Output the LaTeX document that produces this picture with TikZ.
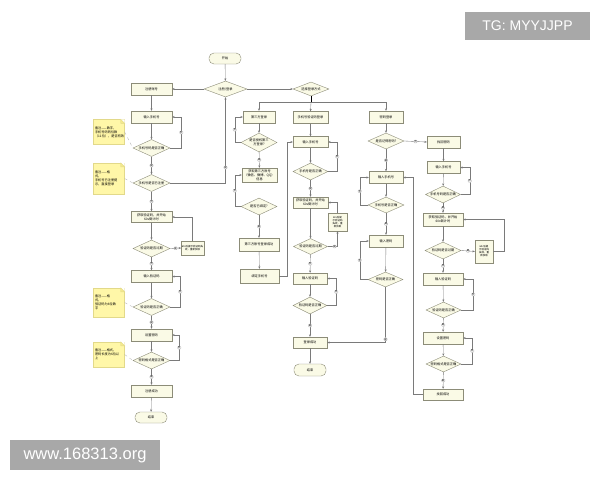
\documentclass[tikz,border=0pt]{standalone}
\usepackage{fontspec}
\newfontfamily\cjk{Noto Sans CJK SC}
\newfontfamily\wmfont{Liberation Sans}
\usetikzlibrary{shapes.geometric,arrows.meta}
\definecolor{boxfill}{HTML}{FAFAE6}
\definecolor{boxline}{HTML}{8C8C78}
\definecolor{wire}{HTML}{7A7A7A}
\definecolor{notefill}{HTML}{FFF7A8}
\definecolor{noteline}{HTML}{E2D98A}
\definecolor{notefold}{HTML}{F3E98E}
\definecolor{wmgray}{HTML}{A8A8A8}
\tikzset{
  txt/.style={font=\cjk\fontsize{3.2}{3.9}\selectfont},
  proc/.style={txt, draw=boxline, fill=boxfill, line width=0.4pt, minimum width=41pt, minimum height=12pt, inner sep=0.5pt, align=center},
  term/.style={proc, rounded corners=5pt, minimum width=32pt, minimum height=11pt},
  decide/.style={txt, diamond, draw=boxline, fill=boxfill, line width=0.4pt, aspect=2.2, inner sep=0pt, minimum width=37pt, minimum height=17pt, align=center},
  small/.style={font=\cjk\fontsize{2.5}{3}\selectfont},
  note/.style={txt, fill=notefill, draw=noteline, line width=0.3pt, align=left, inner sep=1pt, text width=28pt, minimum width=31pt, minimum height=25pt},
  arr/.style={draw=wire, line width=0.35pt, -{Stealth[length=2.4pt,width=2pt]}},
  lbl/.style={font=\cjk\fontsize{2.5}{3}\selectfont, fill=white, draw=wire!50, rounded corners=1pt, inner sep=0.4pt},
  wm/.style={fill=wmgray, text=white, font=\wmfont\fontsize{14}{14}\selectfont, inner sep=0pt}
}
\begin{document}
\begin{tikzpicture}[x=1pt,y=-1pt]
  % page, in pixels of the reference
  \fill[white] (0,0) rectangle (600,480);
  \useasboundingbox (0,0) rectangle (600,480);

  %% register column
  \node[term] (start) at (225,58.5) {开始};
  \node[decide, minimum width=43pt, minimum height=16pt] (reg) at (225.5,89) {注册/登录};
  \node[proc] (r1) at (151.5,89) {注册账号};
  \node[proc] (r2) at (151.5,117) {输入手机号};
  \node[decide] (r3) at (151.5,148) {手机号码是否正确};
  \node[decide] (r4) at (151.5,183) {手机号是否已注册};
  \node[proc, minimum height=11pt] (r5) at (151.5,217) {获取验证码，并开始\\60s倒计时};
  \node[decide] (r6) at (151.5,248.5) {验证码是否过期};
  \node[proc, small, minimum width=21pt, minimum height=14pt] (r6b) at (192.5,248) {60s后提示验证码失\\效，重新获取};
  \node[proc] (r7) at (151.5,276.5) {输入验证码};
  \node[decide] (r8) at (151.5,307) {验证码是否正确};
  \node[proc] (r9) at (151.5,335) {设置密码};
  \node[decide] (r10) at (151.5,360.5) {密码格式是否正确};
  \node[proc] (r11) at (151.5,391) {注册成功};
  \node[term] (r12) at (151,417.5) {结束};

  %% notes
  \node[note] (n1) at (109,132) {备注——数字，\\手机号码的位数\\（11位），是否有效};
  \node[note, minimum height=31pt] (n2) at (109,178.5) {备注——格\\式，\\手机号已注册提\\示，直接登录};
  \node[note, minimum height=29pt] (n3) at (109,302.5) {备注——格\\式，\\验证码为6位数\\字};
  \node[note] (n4) at (109,354.5) {备注——格式，\\密码长度为6位以\\上};
  \foreach \n in {n1,n2,n3,n4}
  {
    \fill[white] (\n.north east) ++(-4,0) -- (\n.north east) -- ++(0,4) -- cycle;
    \draw[noteline, fill=notefold, line width=0.3pt] (\n.north east) ++(-4,0) -- ++(0,4) -- ++(4,0) -- cycle;
  }

  %% login: choice of way
  \node[decide, minimum width=36pt, minimum height=14pt] (mode) at (311,89) {选择登录方式};
  \coordinate (split) at (311,102.5);

  % third party
  \node[proc, minimum width=32pt] (a1) at (259,117) {第三方登录};
  \node[decide, minimum width=36pt, minimum height=19pt] (a2) at (259,142.5) {是否授权第三\\方登录?};
  \node[proc, minimum width=35pt, minimum height=14pt] (a3) at (259.5,175) {获取第三方账号\\（微信、微博、QQ）\\信息};
  \node[decide, minimum width=36pt] (a4) at (259,206.5) {是否已绑定?};
  \node[proc, minimum width=40pt, minimum height=13pt] (a5) at (259,244.5) {第三方账号登录成功};
  \node[proc, minimum width=39pt, minimum height=14pt] (a6) at (259.5,276) {绑定手机号};

  % phone and code
  \node[proc, minimum width=35pt] (b1) at (310.5,117.5) {手机号验证码登录};
  \node[proc, minimum width=35pt, minimum height=11pt] (b2) at (310.5,142) {输入手机号};
  \node[decide, minimum width=35pt] (b3) at (310.5,171.5) {手机号是否正确};
  \node[proc, minimum width=35pt, minimum height=11pt] (b4) at (310.5,202.5) {获取验证码，并开始\\60s倒计时};
  \node[proc, small, minimum width=19pt, minimum height=18pt] (b5) at (337.5,222) {60s后提\\示验证码\\失效，重\\新获取};
  \node[decide, minimum width=34pt, minimum height=16pt] (b6) at (310.5,246.5) {验证码是否过期};
  \node[proc, minimum width=34pt, minimum height=11pt] (b7) at (310,278.5) {输入验证码};
  \node[decide, minimum width=34pt] (b8) at (310,305.5) {验证码是否正确};
  \node[proc, minimum width=34pt, minimum height=11pt] (b9) at (310,342.5) {登录成功};
  \node[term, minimum height=12pt] (b10) at (310,370) {结束};

  % password
  \node[proc, minimum width=34pt] (c1) at (386,117) {密码登录};
  \node[decide, minimum width=36pt, minimum height=16pt] (c2) at (386,141) {是否记得密码?};
  \node[proc, minimum width=34pt] (c3) at (386,177.5) {输入手机号};
  \node[decide, minimum width=36pt, minimum height=16pt] (c4) at (386,205) {手机号是否正确};
  \node[proc, minimum width=34pt] (c5) at (386,241) {输入密码};
  \node[decide, minimum width=35pt, minimum height=15pt] (c6) at (385.5,279.5) {密码是否正确};

  % find password
  \node[proc, minimum width=33pt] (d1) at (443.5,142) {找回密码};
  \node[proc, minimum width=33pt] (d2) at (443.5,167.5) {输入手机号};
  \node[decide, minimum width=35pt] (d3) at (443,194.5) {手机号码是否正确};
  \node[proc, minimum width=40pt, minimum height=13pt] (d4) at (443,219.5) {获取验证码，并开始\\60s倒计时};
  \node[decide, minimum width=36pt] (d5) at (443,250.5) {验证码是否过期};
  \node[proc, small, minimum width=18pt, minimum height=23pt] (d5b) at (484,251.5) {60s后提\\示验证码\\失效，重\\新获取};
  \node[proc, minimum width=40pt] (d6) at (443,279) {输入验证码};
  \node[decide, minimum width=35pt, minimum height=16pt] (d7) at (443.5,310) {验证码是否正确};
  \node[proc, minimum width=40pt] (d8) at (443,338) {设置密码};
  \node[decide, minimum width=35pt, minimum height=16pt] (d9) at (443.5,364) {密码格式是否正确};
  \node[proc, minimum width=40pt, minimum height=11pt] (d10) at (443,394.5) {找回成功};

  %% connectors
  \foreach \a/\b in {start/reg,r1/r2,r2/r3,r5/r6,r7/r8,r9/r10,r11/r12,a1/a2,a5/a6,b1/b2,b2/b3,b4/b6,b7/b8,b9/b10,c1/c2,c3/c4,c5/c6,d1/d2,d2/d3,d4/d5,d6/d7,d8/d9}
    \draw[arr] (\a) -- (\b);
  \foreach \a/\b/\t in {r3/r4/是,r4/r5/否,r6/r7/否,r8/r9/是,r10/r11/是,a2/a3/是,a4/a5/是,b3/b4/是,b6/b7/否,b8/b9/是,c2/c3/是,c4/c5/是,d3/d4/是,d5/d6/否,d7/d8/是,d9/d10/是}
    \draw[arr] (\a) -- node[lbl]{\t} (\b);
  % loops back on the right
  \foreach \a/\b/\d in {r3/r2/11,r8/r7/10,r10/r9/9,b3/b2/9,b8/b7/9,d3/d2/9,d7/d6/12,d9/d8/11}
    \draw[arr] (\a.east) -- ++(\d,0) |- node[lbl,pos=0.25]{否} (\b.east);
  % loops back on the left
  \foreach \a/\b/\d in {a2/a1/6,a4/a3/6,c4/c3/8,c6/c5/8}
    \draw[arr] (\a.west) -- ++(-\d,0) |- node[lbl,pos=0.25]{否} (\b.west);
  % notes
  \foreach \a/\b in {n1/r3,n2/r4,n3/r8,n4/r10}
    \draw[wire!60, dashed, line width=0.3pt] (\a.east) -- (\b.west);

  \draw[arr] (reg.west) -- (r1.east);
  \draw[arr] (reg.east) -- (mode.west);
  \draw[arr] (r4.east) -| node[lbl,pos=0.59]{是} (reg.south);
  \draw[arr] (r6.east) -- node[lbl]{是} (r6b.west);
  \draw[arr] (r6b.north) |- (r5.east);
  \draw (mode.south) -- (split);
  \draw[arr] (split) -| (a1.north);
  \draw[arr] (split) -- (b1.north);
  \draw[arr] (split) -| (c1.north);
  \draw[arr] (a6.east) -- ++(8,0) |- (b2.west);
  \draw[arr] (b6.east) -| node[lbl,pos=0.35]{是} (b5.south);
  \draw[arr] (b5.north) |- (b4.east);
  \draw[arr] (c2.east) -- node[lbl]{否} (d1.west);
  \draw[arr] (c6.south) |- node[lbl,pos=0.47]{是} (b9.east);
  \draw[arr] (d5.east) -- node[lbl]{是} (d5b.west);
  \draw[arr] (d5b.east) -- ++(11,0) |- (d4.east);
  \draw[arr] (d10.west) -- ++(-10,0) |- (c3.east);

  %% watermarks
  \node[wm, minimum width=125pt, minimum height=28pt] (tg) at (527.5,26) {TG: MYYJJPP};
  \node[wm, font=\wmfont\fontsize{16.5}{16.5}\selectfont, minimum width=150pt, minimum height=30pt] (web) at (85,455) {www.168313.org};
\end{tikzpicture}
\end{document}
